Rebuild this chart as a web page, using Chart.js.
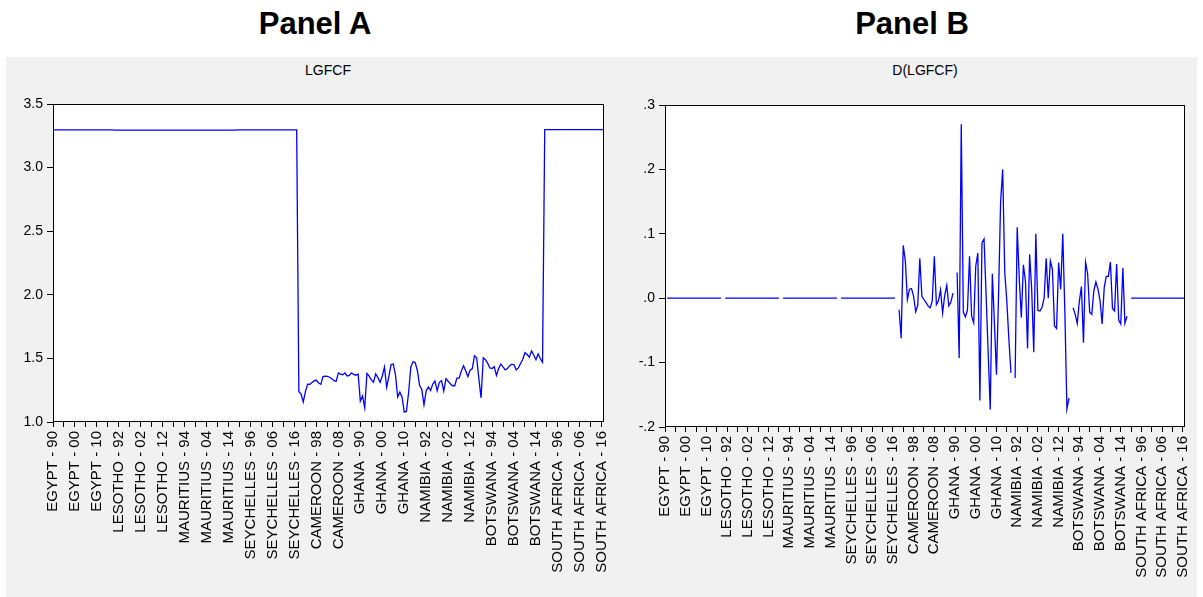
<!DOCTYPE html>
<html><head><meta charset="utf-8">
<script src="https://cdn.jsdelivr.net/npm/chart.js@4.4.1/dist/chart.umd.min.js"></script>
<style>
html,body{margin:0;padding:0;background:#fff;width:1203px;height:597px;overflow:hidden;font-family:"Liberation Sans",Arial,sans-serif;}
#bg{position:absolute;left:6px;top:57px;width:1191px;height:540px;background:#f1f1f1;}
.ptitle{position:absolute;top:8px;font-weight:bold;font-size:31px;line-height:31px;transform:translateX(-50%);white-space:nowrap;color:#000;}
.ctitle{position:absolute;top:62px;font-size:14px;line-height:16px;transform:translateX(-50%);white-space:nowrap;color:#000;}
canvas{position:absolute;top:0;}
#c1{left:0;}
#c2{left:612px;}
</style></head>
<body>
<div id="bg"></div>
<div class="ptitle" style="left:315px">Panel A</div>
<div class="ptitle" style="left:912px">Panel B</div>
<div class="ctitle" style="left:328px">LGFCF</div>
<div class="ctitle" style="left:925px">D(LGFCF)</div>
<canvas id="c1" width="612" height="597"></canvas>
<canvas id="c2" width="591" height="597"></canvas>
<script>
// ---------- DATA ----------
const countries = ["EGYPT","LESOTHO","MAURITIUS","SEYCHELLES","CAMEROON","GHANA","NAMIBIA","BOTSWANA","SOUTH AFRICA"];
const years = ["90","91","92","93","94","95","96","97","98","99","00","01","02","03","04","05","06","07","08","09","10","11","12","13","14","15","16","17"];

// LGFCF levels (Panel A), one array per cross-section
const egypt      = [3.296,3.296,3.296,3.296,3.296,3.296,3.296,3.296,3.296,3.296,3.296,3.296,3.296,3.296,3.296,3.296,3.296,3.296,3.296,3.296,3.296,3.296,3.296,3.296,3.296,3.296,3.296,3.296];
const lesotho    = [3.294,3.294,3.294,3.294,3.294,3.294,3.294,3.294,3.294,3.294,3.294,3.294,3.294,3.294,3.294,3.294,3.294,3.294,3.294,3.294,3.294,3.294,3.294,3.294,3.294,3.294,3.294,3.294];
const mauritius  = [3.295,3.295,3.295,3.295,3.295,3.295,3.295,3.295,3.295,3.295,3.295,3.295,3.295,3.295,3.295,3.295,3.295,3.295,3.295,3.295,3.295,3.295,3.295,3.295,3.295,3.295,3.295,3.295];
const seychelles = [3.296,3.296,3.296,3.296,3.296,3.296,3.296,3.296,3.296,3.296,3.296,3.296,3.296,3.296,3.296,3.296,3.296,3.296,3.296,3.296,3.296,3.296,3.296,3.296,3.296,3.296,3.296,3.296];
const cameroon   = [1.238,1.220,1.158,1.240,1.298,1.296,1.310,1.325,1.328,1.307,1.296,1.358,1.361,1.359,1.352,1.340,1.325,1.321,1.386,1.376,1.372,1.385,1.362,1.366,1.386,1.374,1.368,1.376];
const ghana      = [1.165,1.205,1.112,1.382,1.360,1.331,1.313,1.378,1.350,1.312,1.362,1.432,1.273,1.359,1.451,1.456,1.370,1.197,1.235,1.197,1.078,1.083,1.233,1.433,1.473,1.468,1.403,1.287];
const namibia    = [1.255,1.135,1.245,1.275,1.247,1.298,1.322,1.245,1.312,1.325,1.243,1.340,1.320,1.300,1.285,1.285,1.345,1.345,1.400,1.443,1.402,1.357,1.408,1.420,1.520,1.505,1.340,1.190];
const botswana   = [1.505,1.490,1.463,1.425,1.420,1.435,1.366,1.420,1.455,1.433,1.410,1.420,1.443,1.455,1.450,1.410,1.425,1.460,1.493,1.545,1.530,1.510,1.560,1.527,1.490,1.535,1.497,1.470];
const southAfrica= [3.298,3.298,3.298,3.298,3.298,3.298,3.298,3.298,3.298,3.298,3.298,3.298,3.298,3.298,3.298,3.298,3.298,3.298,3.298,3.298,3.298,3.298,3.298,3.298,3.298,3.298,3.298,3.298];

// D(LGFCF) (Panel B); first year of each cross-section is NA
const egyptD      = [null,0,0,0,0,0,0,0,0,0,0,0,0,0,0,0,0,0,0,0,0,0,0,0,0,0,0,0];
const lesothoD    = [null,0,0,0,0,0,0,0,0,0,0,0,0,0,0,0,0,0,0,0,0,0,0,0,0,0,0,0];
const mauritiusD  = [null,0,0,0,0,0,0,0,0,0,0,0,0,0,0,0,0,0,0,0,0,0,0,0,0,0,0,0];
const seychellesD = [null,0,0,0,0,0,0,0,0,0,0,0,0,0,0,0,0,0,0,0,0,0,0,0,0,0,0,0];
const cameroonD   = [null,-0.018,-0.062,0.082,0.058,-0.002,0.014,0.015,0.003,-0.021,-0.011,0.062,0.003,-0.002,-0.007,-0.012,-0.015,-0.004,0.065,-0.010,-0.004,0.013,-0.023,0.004,0.020,-0.012,-0.006,0.008];
const ghanaD      = [null,0.040,-0.093,0.270,-0.022,-0.029,-0.018,0.065,-0.028,-0.038,0.050,0.070,-0.159,0.086,0.092,0.005,-0.086,-0.173,0.038,-0.038,-0.119,0.005,0.150,0.200,0.040,-0.005,-0.065,-0.116];
const namibiaD    = [null,-0.124,0.110,0.030,-0.030,0.052,0.026,-0.078,0.068,0.014,-0.084,0.100,-0.019,-0.020,-0.014,0.000,0.062,0.000,0.058,0.045,-0.043,-0.047,0.055,0.014,0.100,-0.020,-0.172,-0.155];
const botswanaD   = [null,-0.015,-0.025,-0.039,-0.005,0.018,-0.069,0.056,0.038,-0.022,-0.025,0.012,0.025,0.014,-0.004,-0.040,0.016,0.034,0.034,0.056,-0.016,-0.020,0.053,-0.034,-0.040,0.047,-0.039,-0.028];
const southAfricaD= [null,0,0,0,0,0,0,0,0,0,0,0,0,0,0,0,0,0,0,0,0,0,0,0,0,0,0,0];

// axis settings
const yTicksA = {min:1.0, max:3.5, step:0.5};
const yTicksB = {min:-0.2, max:0.3, step:0.1};
const labelEvery = 10;
const tickEvery = 5;

// ---------- BUILD ----------
const obsLabels = [];
countries.forEach(c => years.forEach(y => obsLabels.push(c + " - " + y)));
const lgfcf = [].concat(egypt,lesotho,mauritius,seychelles,cameroon,ghana,namibia,botswana,southAfrica);
const dlgfcf = [].concat(egyptD,lesothoD,mauritiusD,seychellesD,cameroonD,ghanaD,namibiaD,botswanaD,southAfricaD);

const FONT = "'Liberation Sans', Arial, sans-serif";
Chart.defaults.color = '#000';

const plotFrame = {
  id:'plotFrame',
  beforeDraw(chart){
    const a = chart.chartArea, ctx = chart.ctx;
    ctx.save(); ctx.fillStyle = '#fff';
    ctx.fillRect(a.left, a.top, a.right - a.left, a.bottom - a.top);
    ctx.restore();
  },
  afterDraw(chart){
    const a = chart.chartArea, ctx = chart.ctx;
    ctx.save(); ctx.strokeStyle = '#000'; ctx.lineWidth = 1;
    ctx.strokeRect(Math.round(a.left)+0.5, Math.round(a.top)+0.5, Math.round(a.right-a.left)-1, Math.round(a.bottom-a.top)-1);
    ctx.restore();
  }
};

function fmtB(v){
  if (Math.abs(v) < 1e-9) return '.0';
  return v.toFixed(1).replace(/^(-?)0\./, '$1.');
}

function makeChart(id, data, yt, pad, xH, yFmt){
  return new Chart(document.getElementById(id), {
    type:'line',
    data:{ labels: obsLabels, datasets:[{ data: data, borderColor:'#0000ff', borderWidth:1.3, pointRadius:0, tension:0, fill:false, spanGaps:false }]},
    plugins:[plotFrame],
    options:{
      responsive:false, animation:false, events:[],
      layout:{ padding: pad },
      plugins:{ legend:{display:false}, tooltip:{enabled:false}, title:{display:false} },
      scales:{
        x:{
          type:'category', offset:false,
          border:{display:false},
          grid:{ display:true, drawOnChartArea:false, drawTicks:true, tickLength:5, lineWidth:1,
                 color:(c)=> (c.index % tickEvery === 0 ? '#000' : 'rgba(0,0,0,0)') },
          ticks:{ autoSkip:false, maxRotation:90, minRotation:90, padding:4, color:'#000',
                  font:{family:FONT, size:15},
                  callback:function(v,i){ return i % labelEvery === 0 ? this.getLabelForValue(v) : ''; } },
          afterFit:(s)=>{ s.height = xH; s.paddingLeft = 0; s.paddingRight = 0; }
        },
        y:{
          min:yt.min, max:yt.max,
          border:{display:false},
          grid:{ display:true, drawOnChartArea:false, drawTicks:true, tickLength:6, color:'#000', lineWidth:1 },
          ticks:{ stepSize:yt.step, padding:4, color:'#000', font:{family:FONT, size:14}, callback:yFmt },
          afterFit:(s)=>{ s.width = 53; s.paddingTop = 0; s.paddingBottom = 0; }
        }
      }
    }
  });
}

makeChart('c1', lgfcf, yTicksA, {top:104, left:0, right:8, bottom:0}, 175, (v)=>Number(v).toFixed(1));
makeChart('c2', dlgfcf, yTicksB, {top:105, left:0, right:18, bottom:0}, 170, (v)=>fmtB(Number(v)));
</script>
</body></html>
